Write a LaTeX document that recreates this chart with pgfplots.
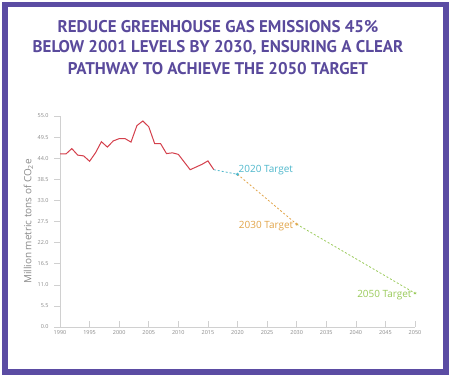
\documentclass[border=0pt]{standalone}
\usepackage{fontspec}
\setmainfont{Open Sans}
\newfontfamily\titlefont{PT Sans}
\usepackage{pgfplots}
\pgfplotsset{compat=1.18}
\definecolor{frame}{HTML}{5B4CA3}
\definecolor{ttl}{HTML}{5A4A9C}
\definecolor{redl}{HTML}{D4404C}
\definecolor{cyanl}{HTML}{4FB8CC}
\definecolor{orangel}{HTML}{E2A54A}
\definecolor{greenl}{HTML}{9ACB5A}
\definecolor{gtext}{HTML}{8A8A8A}
\definecolor{gline}{HTML}{D0D0D0}
\begin{document}
\begin{tikzpicture}[x=1bp,y=1bp]
\fill[white] (0,0) rectangle (451,377);
\draw[frame, line width=5.5bp] (5,5) rectangle (446,372.5);
\node[ttl, font=\titlefont\bfseries\fontsize{17}{20}\selectfont] at (218,350) {REDUCE GREENHOUSE GAS EMISSIONS 45\%};
\node[ttl, font=\titlefont\bfseries\fontsize{17}{20}\selectfont] at (218,329) {BELOW 2001 LEVELS BY 2030, ENSURING A CLEAR};
\node[ttl, font=\titlefont\bfseries\fontsize{17}{20}\selectfont] at (218,308) {PATHWAY TO ACHIEVE THE 2050 TARGET};
\begin{axis}[
  at={(60bp,50bp)}, anchor=south west,
  scale only axis, width=355bp, height=211bp,
  xmin=1990, xmax=2050, ymin=0, ymax=55,
  axis x line*=bottom, axis y line*=left,
  axis line style={gline, line width=0.6bp},
  xtick={1990,1995,...,2050},
  ytick={0,5.5,11,16.5,22,27.5,33,38.5,44,49.5,55},
  x tick label style={/pgf/number format/1000 sep={}, font=\fontsize{5.5}{6}\selectfont, text=gtext},
  y tick label style={/pgf/number format/.cd, fixed, fixed zerofill, precision=1, /tikz/.cd, font=\fontsize{5.5}{6}\selectfont, text=gtext, xshift=-2bp},
  /pgf/number format/assume math mode=true,
  tick style={gline, line width=0.6bp},
  xtick align=inside, ytick align=outside,
  major tick length=6bp,
  ylabel={Million metric tons of CO\textsubscript{2}e},
  every axis y label/.style={at={(ticklabel cs:0.5)}, rotate=90, anchor=near ticklabel, font=\fontsize{10}{12}\selectfont, text=gtext, inner sep=1bp},
  clip=false,
]
\addplot[redl, line width=1bp] coordinates {
(1990,45.1)(1991,45.1)(1992,46.5)(1993,44.8)(1994,44.6)(1995,43.2)(1996,45.4)(1997,48.3)(1998,46.9)(1999,48.5)(2000,49.1)(2001,49.1)(2002,48.2)(2003,52.5)(2004,53.7)(2005,52.2)(2006,47.8)(2007,47.8)(2008,45.2)(2009,45.4)(2010,45.0)(2011,43.0)(2012,41.0)(2013,41.7)(2014,42.4)(2015,43.3)(2016,41.0)};
\addplot[cyanl, line width=0.8bp, dash pattern=on 2bp off 2bp] coordinates {(2016,41.0)(2020,39.8)};
\addplot[orangel, line width=0.8bp, dash pattern=on 2bp off 2bp] coordinates {(2020,39.8)(2030,26.8)};
\addplot[greenl, line width=0.8bp, dash pattern=on 2bp off 2bp] coordinates {(2030,26.8)(2050,8.8)};
\addplot[cyanl, only marks, mark=*, mark size=1.3bp] coordinates {(2020,39.8)};
\addplot[orangel, only marks, mark=asterisk, mark size=1.5bp] coordinates {(2030,26.8)};
\addplot[greenl, only marks, mark=asterisk, mark size=1.5bp] coordinates {(2050,8.8)};
\node[cyanl, anchor=west, font=\fontsize{10}{12}\selectfont, inner sep=1bp] at (axis cs:2020,40.8) {2020 Target};
\node[orangel, anchor=east, font=\fontsize{10}{12}\selectfont, inner sep=1bp] at (axis cs:2029.6,26.2) {2030 Target};
\node[greenl, anchor=east, font=\fontsize{10}{12}\selectfont, inner sep=1bp] at (axis cs:2049.6,8.4) {2050 Target};
\end{axis}
\end{tikzpicture}
\end{document}
